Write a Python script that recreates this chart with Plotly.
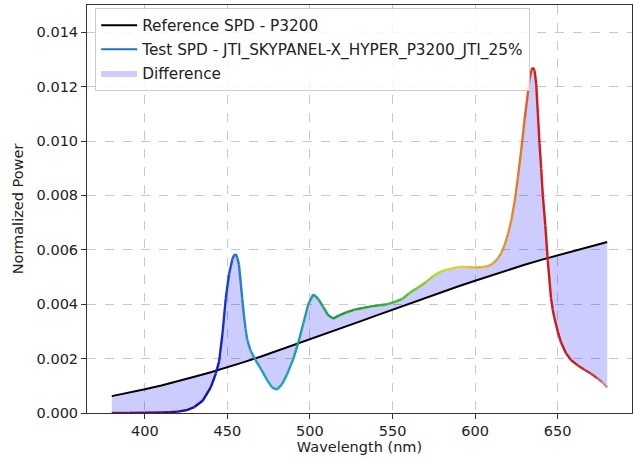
import plotly.graph_objects as go

# ---------------- data ----------------
ref_wl = [380, 390, 400, 410, 420, 430, 440, 450, 460, 470, 480, 490, 500, 510, 520,
          530, 540, 550, 560, 570, 580, 590, 600, 610, 620, 630, 640, 650, 660, 670, 680]
ref_spd = [0.00062, 0.00074, 0.00087, 0.00101, 0.00116, 0.00133, 0.00150, 0.00168,
           0.00187, 0.00207, 0.00228, 0.00249, 0.00270, 0.00292, 0.00313, 0.00336,
           0.00358, 0.00380, 0.00402, 0.00424, 0.00445, 0.00466, 0.00486, 0.00506,
           0.00526, 0.00545, 0.00563, 0.00580, 0.00597, 0.00613, 0.00629]

test_wl = [380, 390, 400, 410, 415, 420, 425, 430, 435, 440, 443, 445, 447, 449, 451,
           453, 454, 455, 456, 457, 458, 459, 460, 461, 462, 464, 467, 470, 474, 477,
           480, 483, 486, 490, 493, 496, 499, 502, 505, 508, 511, 514, 518, 522, 527,
           532, 537, 542, 547, 551, 556, 560, 565, 570, 575, 580, 585, 590, 595, 600,
           605, 608, 611, 614, 616, 618, 620, 622, 624, 626, 628, 630, 632, 633, 634,
           635, 636, 637, 638, 639, 640, 641, 642.5, 644, 646, 647, 648, 650, 652, 655,
           658, 662, 666, 670, 674, 677, 680]
test_spd = [0.00000, 0.00000, 0.00001, 0.00002, 0.00003, 0.00005, 0.00010, 0.00022,
            0.00045, 0.00095, 0.00145, 0.00190, 0.00290, 0.00420, 0.00510,
            0.00565, 0.00580, 0.00584, 0.00572, 0.00545, 0.00485, 0.00420, 0.00360,
            0.00310, 0.00270, 0.00230, 0.00195, 0.00165, 0.00122, 0.00094,
            0.00086, 0.00105, 0.00140, 0.00200, 0.00260, 0.00330, 0.00400, 0.00436,
            0.00420, 0.00390, 0.00360, 0.00347, 0.00360, 0.00370, 0.00380,
            0.00386, 0.00392, 0.00396, 0.00400, 0.00408, 0.00420, 0.00440, 0.00460,
            0.00480, 0.00505, 0.00522, 0.00530, 0.00537, 0.00537, 0.00535,
            0.00537, 0.00540, 0.00550, 0.00570, 0.00590, 0.00620, 0.00660, 0.00710,
            0.00780, 0.00870, 0.00970, 0.01080, 0.01180, 0.01230, 0.01258,
            0.01270, 0.01260, 0.01210, 0.01100, 0.00990, 0.00900, 0.00800, 0.00690,
            0.00560, 0.00420, 0.00380, 0.00350, 0.00300, 0.00260, 0.00220,
            0.00195, 0.00176, 0.00160, 0.00145, 0.00128, 0.00113, 0.00094]

x_ticks = [400, 450, 500, 550, 600, 650]
y_ticks = [0.000, 0.002, 0.004, 0.006, 0.008, 0.010, 0.012, 0.014]

ref_name = "Reference SPD - P3200"
test_name = "Test SPD - JTI_SKYPANEL-X_HYPER_P3200_JTI_25%"
diff_name = "Difference"

# ---------------- styling: wavelength colour stops ----------------
color_stops = [
    (380, "#7a1060"), (400, "#5a0a70"), (420, "#300a90"), (435, "#1010b0"),
    (445, "#1020c8"), (450, "#1a40d0"), (455, "#2070d0"), (462, "#2890c8"),
    (470, "#20a0c0"), (485, "#20a0b0"), (500, "#20a090"), (510, "#20a060"),
    (520, "#209a30"), (540, "#30a830"), (555, "#40c030"), (570, "#90d020"),
    (580, "#c8e020"), (592, "#e0d030"), (605, "#e0b030"), (620, "#e09030"),
    (630, "#e07020"), (636, "#d81818"), (660, "#c81818"), (672, "#c04040"),
    (680, "#c8a0a0"),
]


def hex2rgb(h):
    h = h.lstrip("#")
    return tuple(int(h[i:i + 2], 16) for i in (0, 2, 4))


def wl_color(w):
    for (w0, c0), (w1, c1) in zip(color_stops[:-1], color_stops[1:]):
        if w0 <= w <= w1:
            t = (w - w0) / (w1 - w0) if w1 > w0 else 0
            a, b = hex2rgb(c0), hex2rgb(c1)
            r = [round(a[i] + (b[i] - a[i]) * t) for i in range(3)]
            return f"rgb({r[0]},{r[1]},{r[2]})"
    return color_stops[-1][1] if w > color_stops[-1][0] else color_stops[0][1]


fig = go.Figure()

# fill between reference and test
fig.add_trace(go.Scatter(x=ref_wl, y=ref_spd, mode="lines", line=dict(width=0),
                         showlegend=False, hoverinfo="skip"))
fig.add_trace(go.Scatter(x=test_wl, y=test_spd, mode="lines", line=dict(width=0),
                         fill="tonexty", fillcolor="rgba(0,0,255,0.2)",
                         name=diff_name, legendrank=3, legendgroup="c"))

# reference line
fig.add_trace(go.Scatter(x=ref_wl, y=ref_spd, mode="lines",
                         line=dict(color="black", width=2),
                         name=ref_name, legendrank=1, legendgroup="a"))

# legend entry for the test line
fig.add_trace(go.Scatter(x=[None], y=[None], mode="lines",
                         line=dict(color="#1f77b4", width=2),
                         name=test_name, legendrank=2, legendgroup="b"))

# coloured test segments
for i in range(len(test_wl) - 1):
    wm = 0.5 * (test_wl[i] + test_wl[i + 1])
    fig.add_trace(go.Scatter(x=test_wl[i:i + 2], y=test_spd[i:i + 2], mode="lines",
                             line=dict(color=wl_color(wm), width=2.4),
                             showlegend=False, hoverinfo="skip"))

font = dict(family="DejaVu Sans", size=14.5, color="#222")
lfont = dict(family="DejaVu Sans", size=15.3, color="#222")

fig.update_layout(
    width=633, height=459,
    margin=dict(l=87, r=1, t=5, b=46),
    paper_bgcolor="white", plot_bgcolor="white",
    font=font,
    legend=dict(x=0.015, y=0.993, xanchor="left", yanchor="top",
                bgcolor="rgba(255,255,255,0.85)", bordercolor="#cccccc",
                borderwidth=1, font=lfont, traceorder="grouped",
                tracegroupgap=1, itemwidth=36),
    showlegend=True,
)
fig.update_xaxes(range=[365, 695], tickvals=x_ticks, ticks="outside", ticklen=5,
                 tickcolor="#333", showline=True, linecolor="#333", linewidth=1,
                 mirror=True, showgrid=True, gridcolor="#c8c8c8", griddash="dash",
                 gridwidth=0.8, zeroline=False,
                 title=dict(text="Wavelength (nm)", standoff=3, font=font))
fig.update_yaxes(range=[0, 0.015], tickvals=y_ticks, tickformat=".3f",
                 ticks="outside", ticklen=5, tickcolor="#333", showline=True,
                 linecolor="#333", linewidth=1, mirror=True, showgrid=True,
                 gridcolor="#c8c8c8", griddash="dash", gridwidth=0.8,
                 zeroline=False,
                 title=dict(text="Normalized Power", standoff=9, font=font))

fig.write_html("out.html")
